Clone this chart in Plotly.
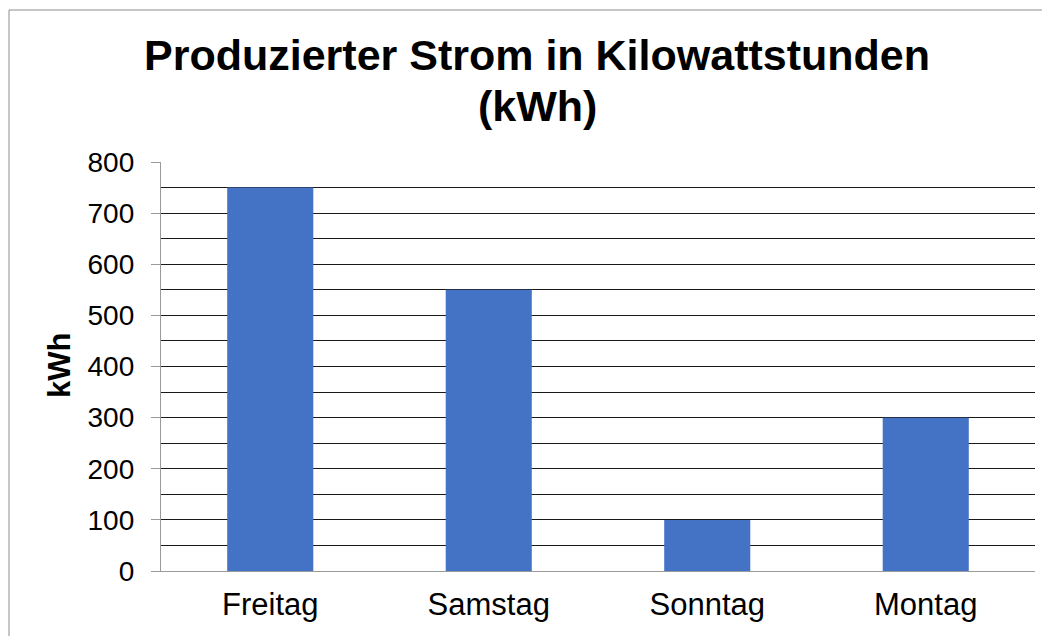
import plotly.graph_objects as go

categories = ["Freitag", "Samstag", "Sonntag", "Montag"]
values = [750, 550, 100, 300]
y_ticks = [0, 100, 200, 300, 400, 500, 600, 700, 800]
title_lines = ["Produzierter Strom in Kilowattstunden", "(kWh)"]
y_title = "kWh"

# page renders with an 8px body margin, so figure px = screen px - 8
OFF = 8
W, H = 1050 - OFF, 636 - OFF
L, T = 161 - OFF, 162 - OFF
R = W - (1035 - OFF)
B = H - (571 - OFF)
pw, ph = W - L - R, H - T - B


def px(x):
    return (x - OFF - L) / pw


def py(y):
    return (H - B - (y - OFF)) / ph


FONT = "Liberation Sans, Arial, sans-serif"

fig = go.Figure(go.Bar(x=categories, y=values, marker_color="#4472C4",
                       marker_line_width=0, width=0.394))

fig.update_layout(
    width=W, height=H,
    margin=dict(l=L, r=R, t=T, b=B),
    paper_bgcolor="white", plot_bgcolor="white",
    font=dict(family=FONT, color="#000"),
    showlegend=False,
)
fig.update_xaxes(showline=True, linecolor="#9a9a9a", linewidth=1.3,
                 ticks="", tickfont=dict(size=31), showgrid=False,
                 ticklabelstandoff=6)
fig.update_yaxes(range=[0, 800], tickvals=y_ticks, showline=True,
                 linecolor="#9a9a9a", linewidth=1.3,
                 ticks="outside", ticklen=9, tickcolor="#9a9a9a",
                 tickfont=dict(size=28), showgrid=True, gridcolor="#1a1a1a",
                 gridwidth=1.3, zeroline=False, ticklabelstandoff=11,
                 minor=dict(dtick=50, showgrid=True, gridcolor="#1a1a1a", gridwidth=1.3))

# title lines
for text, yc in zip(title_lines, [55, 106]):
    fig.add_annotation(text="<b>" + text + "</b>", xref="paper", yref="paper",
                       x=px(537), y=py(yc), xanchor="center", yanchor="middle",
                       showarrow=False, font=dict(size=43, family=FONT, color="#000"))

fig.add_annotation(text="<b>" + y_title + "</b>", xref="paper", yref="paper",
                   x=px(59), y=py(366), xanchor="center", yanchor="middle",
                   textangle=-90, showarrow=False,
                   font=dict(size=31, family=FONT, color="#000"))

fig.add_shape(type="rect", xref="paper", yref="paper",
              x0=px(9), x1=px(1080), y0=py(660), y1=py(10),
              line=dict(color="#8c8c8c", width=1), fillcolor="rgba(0,0,0,0)", layer="below")

fig.write_html("out.html")
